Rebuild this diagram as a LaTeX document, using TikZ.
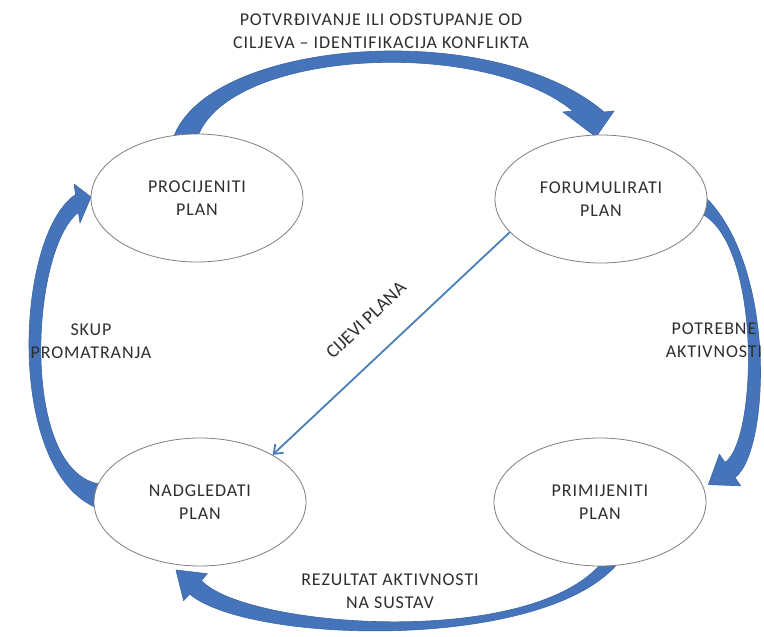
\documentclass[tikz,border=0pt]{standalone}
\usepackage{fontspec}
\setmainfont{Carlito}[LetterSpace=5]
\newfontfamily\plainlbl{Carlito}
\usetikzlibrary{shapes.geometric,arrows.meta}
\definecolor{arrowblue}{HTML}{4574BA}
\definecolor{arrowedge}{HTML}{3B66A6}
\definecolor{lineblue}{HTML}{4A7EBB}
\definecolor{ellgray}{HTML}{7F7F7F}
\definecolor{txt}{HTML}{2E2E2E}
\newcommand\lblfont{\fontsize{18}{23.5}\selectfont}
\begin{document}
\begin{tikzpicture}[x=1pt,y=-1pt,
  ell/.style={ellipse, draw=ellgray, line width=0.8pt, fill=white, minimum width=212pt, minimum height=128pt, inner sep=0pt, align=center, text=txt, font=\lblfont},
  lab/.style={align=center, text=txt, font=\lblfont, inner sep=0pt},
  band/.style={fill=arrowblue, draw=arrowedge, line width=0.6pt, line join=round},
  diag/.style={draw=lineblue, line width=1.8pt, -{Straight Barb[length=8pt,width=12pt]}}]
\useasboundingbox (0,0) rectangle (764,637);
\fill[white] (0,0) rectangle (764,637);
% thick curved arrows
\path[band] (172,142) .. controls (200,40) and (490,15) .. (604,112) -- (614,111) -- (596,137) -- (563,112) -- (573,111) .. controls (480,35) and (220,50) .. (196,142) -- cycle;
\path[band] (735,477.5) .. controls (770,452) and (778,260) .. (700,192) -- (698,212) .. controls (762,238) and (758,440) .. (725,462.5) -- (719.4,454.2) -- (708.4,484.6) -- (740.6,485.8) -- cycle;
\path[band] (201.4,580.5) .. controls (245,628) and (535,650) .. (604,560) -- (622,558) .. controls (555,652) and (250,645) .. (189.6,594) -- (183.6,600.7) -- (176,570) -- (207.4,573.7) -- cycle;
\path[band] (97,508) .. controls (5,470) and (15,235) .. (75.6,194.6) -- (74,184) -- (91,197) -- (80,223) -- (78.4,212.4) .. controls (30,250) and (20,470) .. (99,484) -- cycle;
% ellipses
\node[ell] (p) at (197,198) {PROCIJENITI\\PLAN};
\node[ell] (f) at (601,199) {FORUMULIRATI\\PLAN};
\node[ell] (n) at (200,502) {NADGLEDATI\\PLAN};
\node[ell] (r) at (600,502) {PRIMIJENITI\\PLAN};
% labels
\node[lab] (t1) at (381,31) {POTVRĐIVANJE ILI ODSTUPANJE OD\\CILJEVA – IDENTIFIKACIJA KONFLIKTA};
\node[lab] (t2) at (91,341) {SKUP\\PROMATRANJA};
\node[lab] (t3) at (714,340) {POTREBNE\\AKTIVNOSTI};
\node[lab] (t4) at (390,591) {REZULTAT AKTIVNOSTI\\NA SUSTAV};
\node[lab, font=\plainlbl\fontsize{19}{23}\selectfont, rotate=43.5] (t5) at (366,320) {CIJEVI PLANA};
\draw[diag] (f.200) -- (n.33);
\end{tikzpicture}
\end{document}
